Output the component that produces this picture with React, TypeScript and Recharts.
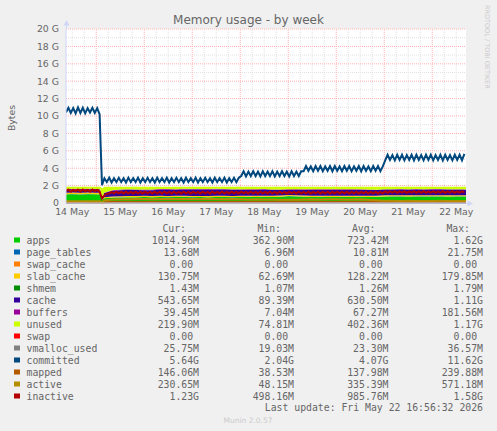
import {
  ComposedChart,
  Area,
  Line,
  XAxis,
  YAxis,
  CartesianGrid,
  ReferenceLine,
} from "recharts";

// sample times, hours since 14 May 00:00
const HOURS = [
  8.9, 12, 16, 20, 24, 26, 27, 28, 32, 36, 40, 44, 48, 52, 56, 60, 64, 68, 72,
  76, 80, 84, 88, 92, 96, 100, 104, 108, 112, 116, 120, 124, 128, 132, 136, 140,
  144, 148, 152, 156, 160, 164, 168, 172, 176, 180, 184, 188, 192, 196, 200,
  204, 208, 208.9,
];

// values in GB
const APPS = [
  1.0, 1.02, 0.99, 1.01, 1.0, 0.98, 0.36, 0.55,
  0.62, 0.64, 0.66, 0.66, 0.68, 0.66, 0.69, 0.67, 0.68, 0.7, 0.67, 0.68, 0.66, 0.68,
  0.68, 0.67, 0.69, 0.7, 0.68, 0.7, 0.69, 0.72,
  0.78, 0.76, 0.72,
  0.68, 0.7, 0.68, 0.69, 0.7, 0.68, 0.7, 0.69, 0.7,
  0.74, 0.75, 0.76, 0.74, 0.76, 0.75, 0.76, 0.75, 0.74, 0.76, 0.75, 0.76,
];
const PAGE_TABLES = [
  0.014, 0.014, 0.015, 0.014, 0.014, 0.014, 0.007, 0.008,
  0.009, 0.01, 0.01, 0.011, 0.011, 0.011, 0.011, 0.011, 0.011, 0.011, 0.011, 0.011, 0.011, 0.011,
  0.011, 0.011, 0.012, 0.012, 0.012, 0.012, 0.012, 0.012,
  0.012, 0.012, 0.012,
  0.012, 0.012, 0.012, 0.012, 0.012, 0.012, 0.012, 0.012, 0.012,
  0.013, 0.013, 0.013, 0.013, 0.013, 0.013, 0.013, 0.013, 0.013, 0.013, 0.013, 0.014,
];
const SLAB_CACHE = [
  0.17, 0.17, 0.175, 0.17, 0.17, 0.17, 0.065, 0.09,
  0.11, 0.12, 0.125, 0.125, 0.13, 0.125, 0.13, 0.128, 0.13, 0.132, 0.13, 0.128, 0.13, 0.13,
  0.13, 0.128, 0.13, 0.132, 0.13, 0.13, 0.128, 0.13,
  0.13, 0.13, 0.13,
  0.128, 0.13, 0.13, 0.128, 0.13, 0.13, 0.13, 0.128, 0.13,
  0.13, 0.13, 0.128, 0.13, 0.13, 0.128, 0.13, 0.13, 0.128, 0.13, 0.13, 0.131,
];
const CACHE = [
  0.25, 0.26, 0.27, 0.26, 0.27, 0.27, 0.09, 0.5,
  0.68, 0.7, 0.72, 0.7, 0.65, 0.68, 0.7, 0.72, 0.7, 0.72, 0.74, 0.72, 0.73, 0.74,
  0.72, 0.7, 0.68, 0.66, 0.68, 0.7, 0.66, 0.62,
  0.58, 0.6, 0.66,
  0.68, 0.66, 0.68, 0.67, 0.66, 0.68, 0.67, 0.66, 0.64,
  0.66, 0.65, 0.66, 0.67, 0.66, 0.65, 0.66, 0.67, 0.66, 0.65, 0.64, 0.6,
];
const BUFFERS = [
  0.15, 0.16, 0.17, 0.17, 0.16, 0.16, 0.007, 0.04,
  0.06, 0.07, 0.07, 0.07, 0.07, 0.07, 0.08, 0.07, 0.07, 0.08, 0.07, 0.07, 0.08, 0.07,
  0.07, 0.07, 0.08, 0.07, 0.07, 0.08, 0.07, 0.07,
  0.08, 0.07, 0.07,
  0.07, 0.08, 0.07, 0.07, 0.08, 0.07, 0.07, 0.06, 0.05,
  0.04, 0.04, 0.04, 0.04, 0.04, 0.04, 0.04, 0.04, 0.04, 0.04, 0.04, 0.039,
];
const UNUSED = [
  0.29, 0.25, 0.25, 0.25, 0.26, 0.28, 1.17, 0.67,
  0.38, 0.32, 0.28, 0.3, 0.32, 0.31, 0.25, 0.26, 0.27, 0.22, 0.24, 0.25, 0.25, 0.23,
  0.25, 0.28, 0.27, 0.29, 0.29, 0.24, 0.3, 0.31,
  0.28, 0.29, 0.27,
  0.29, 0.28, 0.29, 0.29, 0.28, 0.29, 0.28, 0.31, 0.33,
  0.28, 0.28, 0.26, 0.27, 0.26, 0.28, 0.26, 0.26, 0.28, 0.27, 0.29, 0.32,
];
const VMALLOC_USED = [
  0.024, 0.024, 0.025, 0.024, 0.024, 0.024, 0.019, 0.02,
  0.021, 0.022, 0.022, 0.023, 0.023, 0.023, 0.023, 0.023, 0.023, 0.023, 0.023, 0.023, 0.023, 0.023,
  0.023, 0.023, 0.023, 0.023, 0.023, 0.023, 0.023, 0.023,
  0.024, 0.023, 0.023,
  0.023, 0.023, 0.023, 0.023, 0.023, 0.023, 0.023, 0.023, 0.024,
  0.025, 0.025, 0.025, 0.025, 0.025, 0.025, 0.025, 0.025, 0.025, 0.026, 0.026, 0.026,
];
const MAPPED = [
  0.1, 0.1, 0.11, 0.1, 0.1, 0.1, 0.04, 0.1,
  0.13, 0.14, 0.14, 0.14, 0.15, 0.14, 0.15, 0.15, 0.14, 0.15, 0.15, 0.14, 0.15, 0.15,
  0.15, 0.14, 0.15, 0.15, 0.14, 0.15, 0.15, 0.14,
  0.15, 0.15, 0.14,
  0.15, 0.14, 0.15, 0.15, 0.14, 0.15, 0.15, 0.14, 0.15,
  0.15, 0.14, 0.15, 0.15, 0.14, 0.15, 0.15, 0.14, 0.15, 0.15, 0.14, 0.146,
];
const ACTIVE = [
  0.2, 0.21, 0.19, 0.2, 0.2, 0.19, 0.05, 0.3,
  0.4, 0.42, 0.44, 0.45, 0.45, 0.44, 0.46, 0.45, 0.47, 0.46, 0.45, 0.47, 0.46, 0.45,
  0.44, 0.45, 0.43, 0.4, 0.42, 0.41, 0.4, 0.38,
  0.36, 0.38, 0.4,
  0.42, 0.41, 0.43, 0.42, 0.4, 0.41, 0.42, 0.38, 0.32,
  0.26, 0.25, 0.24, 0.25, 0.24, 0.23, 0.24, 0.25, 0.24, 0.23, 0.24, 0.23,
];

// fast-moving series, one value every 1.2 h from 8.9 h
const FAST_START = 8.9;
const FAST_STEP = 1.2;
const COMMITTED = [
  10.4, 10.95, 10.35, 10.9, 10.3, 11.0, 10.35, 10.95, 10.3, 10.9, 10.4, 10.95, 10.35, 10.9, 10.2,
  2.05,
  2.85, 2.4, 2.9, 2.35, 2.85, 2.4, 2.9, 2.4, 2.85, 2.35,
  2.9, 2.4, 2.85, 2.4, 2.9, 2.35, 2.85, 2.4, 2.9, 2.4,
  2.85, 2.35, 2.9, 2.4, 2.85, 2.4, 2.9, 2.35, 2.85, 2.4,
  2.9, 2.4, 2.85, 2.35, 2.9, 2.4, 2.85, 2.4, 2.9, 2.35,
  2.85, 2.4, 2.9, 2.4, 2.85, 2.35, 2.9, 2.4, 2.85, 2.4,
  2.9, 2.35, 2.85, 2.4, 2.9, 2.4, 2.9,
  3.1, 3.65, 3.05, 3.6, 3.1, 3.65, 3.1, 3.6, 3.05, 3.65,
  3.1, 3.6, 3.1, 3.65, 3.05, 3.6, 3.1, 3.65, 3.1, 3.6,
  3.05, 3.65, 3.1, 3.6, 3.1, 3.65,
  3.65, 4.25, 3.7, 4.2, 3.65, 4.25, 3.7, 4.25, 3.65, 4.2,
  3.7, 4.25, 3.65, 4.25, 3.7, 4.2, 3.65, 4.25, 3.7, 4.25,
  3.65, 4.2, 3.7, 4.25, 3.65, 4.25, 3.7, 4.2, 3.65, 4.25,
  3.7, 4.25, 3.65, 4.2,
  4.9, 5.55, 4.95, 5.5, 4.9, 5.55, 4.95, 5.55, 4.9, 5.5,
  4.95, 5.55, 4.9, 5.55, 4.95, 5.5, 4.9, 5.55, 4.95, 5.55,
  4.9, 5.5, 4.95, 5.55, 4.9, 5.55, 4.95, 5.5, 4.9, 5.55,
  4.95, 5.55, 4.9, 5.64,
];
const INACTIVE = [
  1.35, 1.55, 1.3, 1.5, 1.35, 1.55, 1.3, 1.55, 1.35, 1.5, 1.3, 1.55, 1.35, 1.5, 1.3,
  0.5,
  0.9, 1.05, 1.1, 1.25, 1.1, 1.3, 1.12, 1.28, 1.1, 1.3,
  1.12, 1.28, 1.1, 1.3, 1.12, 1.28, 1.1, 1.3, 1.12, 1.28,
  1.1, 1.3, 1.12, 1.28, 1.1, 1.3, 1.12, 1.28, 1.1, 1.3,
  1.12, 1.28, 1.1, 1.3, 1.12, 1.28, 1.1, 1.3, 1.12, 1.28,
  1.1, 1.3, 1.12, 1.28, 1.1, 1.3, 1.12, 1.28, 1.1, 1.3,
  1.12, 1.28, 1.1, 1.3, 1.12, 1.28, 1.1,
  1.3, 1.12, 1.28, 1.1, 1.3, 1.12, 1.28, 1.1, 1.3, 1.12,
  1.28, 1.1, 1.3, 1.12, 1.28, 1.1, 1.3, 1.12, 1.28, 1.1,
  1.3, 1.12, 1.28, 1.1, 1.3, 1.12,
  1.28, 1.12, 1.3, 1.1, 1.28, 1.12, 1.3, 1.1, 1.28, 1.12,
  1.3, 1.1, 1.28, 1.12, 1.3, 1.1, 1.28, 1.12, 1.3, 1.1,
  1.28, 1.12, 1.3, 1.1, 1.28, 1.12, 1.3, 1.1, 1.28, 1.12,
  1.3, 1.1, 1.28, 1.12,
  1.35, 1.18, 1.34, 1.2, 1.36, 1.18, 1.34, 1.2, 1.35, 1.18,
  1.34, 1.2, 1.36, 1.18, 1.34, 1.2, 1.35, 1.18, 1.34, 1.2,
  1.36, 1.18, 1.34, 1.2, 1.35, 1.18, 1.34, 1.2, 1.36, 1.18,
  1.34, 1.2, 1.35, 1.23,
];

const DAY_TICKS = [12, 36, 60, 84, 108, 132, 156, 180, 204];
const DAY_LABELS = ["14 May", "15 May", "16 May", "17 May", "18 May", "19 May", "20 May", "21 May", "22 May"];
const Y_TICKS = [0, 2, 4, 6, 8, 10, 12, 14, 16, 18, 20];
const Y_MINOR = [1, 3, 5, 7, 9, 11, 13, 15, 17, 19];
const MIDNIGHTS = [24, 48, 72, 96, 120, 144, 168, 192];
const SIX_HOURS = [
  12, 18, 24, 30, 36, 42, 48, 54, 60, 66, 72, 78, 84, 90, 96, 102, 108, 114,
  120, 126, 132, 138, 144, 150, 156, 162, 168, 174, 180, 186, 192, 198, 204,
];

// legend table
const NAMES = ["apps", "page_tables", "swap_cache", "slab_cache", "shmem", "cache", "buffers", "unused", "swap", "vmalloc_used", "committed", "mapped", "active", "inactive"];
const COLORS = ["#00CC00", "#0066B3", "#FF8000", "#FFCC00", "#008F00", "#330099", "#990099", "#CCFF00", "#FF0000", "#808080", "#00487D", "#B35A00", "#B38F00", "#B30000"];
const CUR = ["1014.96M", "13.68M", "0.00", "130.75M", "1.43M", "543.65M", "39.45M", "219.90M", "0.00", "25.75M", "5.64G", "146.06M", "230.65M", "1.23G"];
const MIN = ["362.90M", "6.96M", "0.00", "62.69M", "1.07M", "89.39M", "7.04M", "74.81M", "0.00", "19.03M", "2.04G", "38.53M", "48.15M", "498.16M"];
const AVG = ["723.42M", "10.81M", "0.00", "128.22M", "1.26M", "630.50M", "67.27M", "402.36M", "0.00", "23.30M", "4.07G", "137.98M", "335.39M", "985.76M"];
const MAX = ["1.62G", "21.75M", "0.00", "179.85M", "1.79M", "1.11G", "181.56M", "1.17G", "0.00", "36.57M", "11.62G", "239.88M", "571.18M", "1.58G"];

const FONT = "DejaVu Sans";
const MONO = "DejaVu Sans Mono";
const INK = "#666666";
const AXIS = "#CFD6F8";
const MINOR_GRID = "#e2e2e2";
const MAJOR_GRID = "#ffb0b0";

const rows = HOURS.map((t, i) => ({
  t,
  apps: APPS[i],
  page_tables: PAGE_TABLES[i],
  slab_cache: SLAB_CACHE[i],
  cache: CACHE[i],
  buffers: BUFFERS[i],
  unused: UNUSED[i],
  vmalloc_used: VMALLOC_USED[i],
  mapped: MAPPED[i],
  active: ACTIVE[i],
}));

const fastRows = COMMITTED.map((v, i) => ({
  t: FAST_START + i * FAST_STEP,
  committed: v,
  inactive: INACTIVE[i],
}));

const stacked = [
  { key: "apps", color: "#00CC00" },
  { key: "page_tables", color: "#0066B3" },
  { key: "slab_cache", color: "#FFCC00" },
  { key: "cache", color: "#330099" },
  { key: "buffers", color: "#990099" },
  { key: "unused", color: "#CCFF00" },
];

const pad = (s: string) => (/[MG]$/.test(s) ? s : s + "\u00a0");

const Legend = () => {
  const cols = [199, 294, 388.5, 483];
  const heads = ["Cur:", "Min:", "Avg:", "Max:"];
  const values = [CUR, MIN, AVG, MAX];
  return (
    <g fontFamily={MONO} fontSize={9.8} fill={INK}>
      {heads.map((h, c) => (
        <text key={h} x={cols[c] - 13} y={231.8} textAnchor="end">
          {h}
        </text>
      ))}
      {NAMES.map((name, r) => {
        const cy = 240 + r * 12;
        return (
          <g key={name}>
            <rect x={14} y={cy - 2.5} width={6} height={5} fill={COLORS[r]} />
            <text x={26.5} y={cy + 3.5}>
              {name}
            </text>
            {values.map((col, c) => (
              <text key={c} x={cols[c]} y={cy + 3.5} textAnchor="end">
                {pad(col[r])}
              </text>
            ))}
          </g>
        );
      })}
      <text x={483} y={411.2} textAnchor="end">
        Last update: Fri May 22 16:56:32 2026
      </text>
    </g>
  );
};

const App = () => {
  const tickStyle = { fontSize: 9.33, fill: INK, fontFamily: FONT };
  return (
    <div
      style={{
        position: "absolute",
        left: 0,
        top: 0,
        width: 497,
        height: 431,
        background: "#F0F0F0",
        overflow: "hidden",
      }}>
      <ComposedChart
        width={497}
        height={220}
        data={rows}
        margin={{ top: 29, right: 31, bottom: 0, left: 0 }}>
        <CartesianGrid horizontal={false} vertical={false} fill="#FFFFFF" />
        {Y_MINOR.map((v) => (
          <ReferenceLine key={`ym${v}`} y={v} stroke={MINOR_GRID} strokeDasharray="1 1" zIndex={-50} />
        ))}
        {SIX_HOURS.filter((h) => !MIDNIGHTS.includes(h)).map((h) => (
          <ReferenceLine key={`xm${h}`} x={h} stroke={MINOR_GRID} strokeDasharray="1 1" zIndex={-50} />
        ))}
        {Y_TICKS.filter((v) => v > 0).map((v) => (
          <ReferenceLine key={`yM${v}`} y={v} stroke={MAJOR_GRID} strokeDasharray="1 1" zIndex={-40} />
        ))}
        {MIDNIGHTS.map((h) => (
          <ReferenceLine key={`xM${h}`} x={h} stroke={MAJOR_GRID} strokeDasharray="1 1" zIndex={-40} />
        ))}
        <XAxis
          dataKey="t"
          type="number"
          domain={[8.9, 208.9]}
          allowDataOverflow
          ticks={DAY_TICKS}
          interval={0}
          tickFormatter={(v) => DAY_LABELS[DAY_TICKS.indexOf(v)]}
          tick={tickStyle}
          tickLine={false}
          tickSize={0}
          tickMargin={5}
          height={17}
          axisLine={{ stroke: AXIS }}
        />
        <YAxis
          type="number"
          domain={[0, 20]}
          ticks={Y_TICKS}
          interval={0}
          tickFormatter={(v) => (v === 0 ? "0" : `${v} G`)}
          tick={tickStyle}
          tickLine={false}
          tickSize={0}
          tickMargin={7}
          width={66}
          axisLine={{ stroke: AXIS }}
        />
        {stacked.map((s) => (
          <Area
            key={s.key}
            dataKey={s.key}
            stackId="mem"
            type="linear"
            fill={s.color}
            fillOpacity={1}
            stroke="none"
            isAnimationActive={false}
          />
        ))}
        <Line dataKey="vmalloc_used" type="linear" stroke="#808080" strokeWidth={2} dot={false} isAnimationActive={false} />
        <Line data={fastRows} dataKey="committed" type="linear" stroke="#00487D" strokeWidth={2} dot={false} isAnimationActive={false} />
        <Line dataKey="mapped" type="linear" stroke="#B35A00" strokeWidth={2} dot={false} isAnimationActive={false} />
        <Line dataKey="active" type="linear" stroke="#B38F00" strokeWidth={2} dot={false} isAnimationActive={false} />
        <Line data={fastRows} dataKey="inactive" type="linear" stroke="#B30000" strokeWidth={2} dot={false} isAnimationActive={false} />
      </ComposedChart>
      <svg
        width={497}
        height={431}
        style={{ position: "absolute", left: 0, top: 0, pointerEvents: "none" }}>
        <text x={248.5} y={23.5} textAnchor="middle" fontFamily={FONT} fontSize={12} fill={INK}>
          Memory usage - by week
        </text>
        <text
          transform="translate(14.5,118) rotate(-90)"
          textAnchor="middle"
          fontFamily={FONT}
          fontSize={9.33}
          fill={INK}>
          Bytes
        </text>
        <text
          transform="translate(485,5) rotate(90)"
          fontFamily={FONT}
          fontSize={6.5}
          fill="#cccccc">
          RRDTOOL / TOBI OETIKER
        </text>
        <line x1={66.5} y1={29} x2={66.5} y2={24} stroke={AXIS} />
        <polygon points="66.5,20 63.5,25.5 69.5,25.5" fill={AXIS} />
        <line x1={466} y1={203.5} x2={469} y2={203.5} stroke={AXIS} />
        <polygon points="473,203.5 467.5,200.5 467.5,206.5" fill={AXIS} />
        <Legend />
        <text x={248} y={422.5} textAnchor="middle" fontFamily={FONT} fontSize={7.5} fill="#cccccc">
          Munin 2.0.57
        </text>
      </svg>
    </div>
  );
};

export default App;
